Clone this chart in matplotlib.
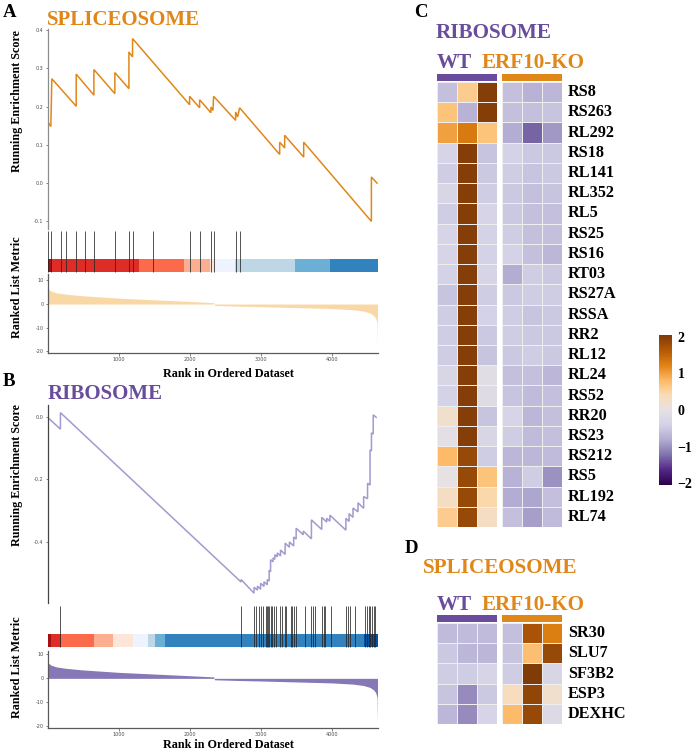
import matplotlib
matplotlib.use("Agg")
import matplotlib.pyplot as plt
import numpy as np
from matplotlib.patches import Rectangle
from matplotlib.colors import Normalize, LinearSegmentedColormap
import matplotlib.colorbar as mcolorbar

plt.rcParams['axes.unicode_minus'] = False

# ---------------- data ----------------
N_GENES = 4645

# ranked list metric (shared ranked list)
metric_rank = [0, 15, 50, 120, 250, 500, 1000, 1500, 2000, 2340, 2350, 2700, 3000, 3500,
               4000, 4300, 4450, 4540, 4590, 4620, 4640, 4645]
metric_value = [7.5, 6.3, 5.5, 4.8, 4.2, 3.5, 2.5, 1.8, 1.1, 0.6, -0.6, -0.9, -1.1, -1.5,
                -1.9, -2.4, -3.0, -3.8, -4.8, -6.0, -8.0, -19.0]

# Panel A: SPLICEOSOME running enrichment score (vertices)
es_a_rank = [0, 5, 47, 61, 404, 404, 653, 653, 948, 948, 1146, 1146, 1197, 1197, 2000, 2000,
             2141, 2141, 2300, 2300, 2329, 2338, 2648, 2648, 2676, 2704, 3268, 3268, 3338, 3338,
             3606, 3606, 4559, 4559, 4638]
es_a_value = [0.0, 0.160, 0.148, 0.273, 0.201, 0.285, 0.230, 0.297, 0.234, 0.289, 0.247, 0.343,
              0.330, 0.378, 0.205, 0.227, 0.197, 0.218, 0.184, 0.199, 0.190, 0.227, 0.164, 0.186,
              0.173, 0.197, 0.075, 0.107, 0.092, 0.125, 0.068, 0.107, -0.100, 0.016, 0.0]
hits_a = [2, 52, 192, 263, 404, 526, 653, 953, 1146, 1202, 1484, 2000, 2141, 2300, 2343, 2648, 2714]
band_a_edges = [0, 66, 1286, 1925, 2291, 2362, 2643, 3488, 3981, 4645]
band_a_colors = ["#A50F15", "#DE2D26", "#FB6A4A", "#FCAE91", "#FEE5D9", "#EFF3FF", "#BDD7E7",
                 "#6BAED6", "#3182BD"]

# Panel B: RIBOSOME running enrichment score
es_b_rank = [0, 182, 182, 2725, 2725, 2907, 2907, 2955, 2955, 3000, 3000, 3047, 3047, 3093, 3093,
             3120, 3120, 3140, 3140, 3175, 3175, 3200, 3200, 3235, 3235, 3280, 3280, 3345, 3345,
             3405, 3405, 3465, 3465, 3500, 3500, 3600, 3600, 3715, 3715, 3860, 3860, 3930, 3930,
             3975, 3975, 4200, 4200, 4245, 4245, 4300, 4300, 4370, 4370, 4450, 4450, 4505, 4505,
             4540, 4540, 4560, 4560, 4585, 4585, 4626]
es_b_value = [0.0, -0.038, 0.015, -0.530, -0.522, -0.566, -0.547, -0.556, -0.543, -0.553, -0.534,
              -0.544, -0.529, -0.539, -0.522, -0.527, -0.492, -0.497, -0.458, -0.465, -0.452,
              -0.457, -0.442, -0.449, -0.436, -0.446, -0.427, -0.441, -0.405, -0.418, -0.401,
              -0.414, -0.385, -0.392, -0.357, -0.378, -0.366, -0.391, -0.330, -0.361, -0.322,
              -0.337, -0.325, -0.334, -0.315, -0.363, -0.325, -0.335, -0.310, -0.322, -0.292,
              -0.304, -0.275, -0.293, -0.255, -0.262, -0.212, -0.218, -0.105, -0.108, -0.050,
              -0.054, 0.008, 0.0]
hits_b = [182, 2729, 2907, 2930, 2977, 3000, 3037, 3070, 3093, 3107, 3117, 3140, 3164, 3187, 3220,
          3266, 3295, 3341, 3360, 3421, 3444, 3467, 3500, 3621, 3715, 3734, 3762, 3865, 3888, 3911,
          3995, 4206, 4229, 4262, 4332, 4463, 4495, 4519, 4542, 4565, 4589, 4610]
band_b_edges = [0, 56, 187, 650, 921, 1201, 1411, 1509, 1659, 4449, 4645]
band_b_colors = ["#A50F15", "#DE2D26", "#FB6A4A", "#FCAE91", "#FEE5D9", "#EFF3FF", "#BDD7E7",
                 "#6BAED6", "#3182BD", "#08519C"]

rank_ticks = [1000, 2000, 3000, 4000]
metric_ticks = [-20, -10, 0, 10]

# Panel C heatmap (z-scores): columns WT1..3, ERF10-KO1..3
ribosome_genes = ["RS8", "RS263", "RL292", "RS18", "RL141", "RL352", "RL5", "RS25", "RS16", "RT03",
                  "RS27A", "RSSA", "RR2", "RL12", "RL24", "RS52", "RR20", "RS23", "RS212", "RS5",
                  "RL192", "RL74"]
ribosome_values = [
    [-0.6, 0.6, 2.0, -0.6, -0.75, -0.7],
    [0.7, -0.75, 2.0, -0.6, -0.6, -0.55],
    [1.0, 1.3, 0.7, -0.8, -1.3, -0.95],
    [-0.35, 2.0, -0.55, -0.4, -0.5, -0.5],
    [-0.45, 2.0, -0.5, -0.45, -0.55, -0.5],
    [-0.3, 2.0, -0.45, -0.5, -0.6, -0.55],
    [-0.45, 2.0, -0.35, -0.5, -0.6, -0.6],
    [-0.35, 2.0, -0.4, -0.45, -0.6, -0.6],
    [-0.35, 2.0, -0.4, -0.4, -0.6, -0.7],
    [-0.4, 2.0, -0.35, -0.8, -0.45, -0.5],
    [-0.55, 2.0, -0.45, -0.5, -0.45, -0.45],
    [-0.45, 2.0, -0.4, -0.45, -0.55, -0.5],
    [-0.45, 2.0, -0.5, -0.45, -0.5, -0.5],
    [-0.45, 2.0, -0.55, -0.5, -0.45, -0.5],
    [-0.3, 2.0, -0.1, -0.6, -0.6, -0.7],
    [-0.4, 2.0, -0.15, -0.55, -0.65, -0.6],
    [0.2, 2.0, -0.55, -0.35, -0.7, -0.6],
    [-0.05, 2.0, -0.3, -0.45, -0.65, -0.6],
    [0.8, 1.85, -0.45, -0.7, -0.7, -0.65],
    [0.0, 1.85, 0.7, -0.75, -0.45, -1.0],
    [0.3, 1.85, 0.45, -0.8, -0.85, -0.6],
    [0.6, 1.85, 0.3, -0.6, -0.9, -0.65],
]
# Panel D heatmap
spliceosome_genes = ["SR30", "SLU7", "SF3B2", "ESP3", "DEXHC"]
spliceosome_values = [
    [-0.65, -0.65, -0.65, -0.6, 1.7, 1.25],
    [-0.5, -0.7, -0.7, -0.55, 0.75, 1.85],
    [-0.45, -0.45, -0.35, -0.45, 2.05, -0.3],
    [-0.55, -1.05, -0.5, 0.35, 1.9, 0.2],
    [-0.7, -1.05, -0.35, 0.8, 1.85, -0.2],
]
group_labels = ["WT", "ERF10-KO"]
cbar_ticks = [-2, -1, 0, 1, 2]

# ---------------- style ----------------
W, H = 696, 751
SERIF = "Liberation Serif"
ORANGE = "#E08719"
PURPLE = "#6A4C9C"
TICKC = "#4D4D4D"

fig = plt.figure(figsize=(W / 100, H / 100), dpi=100)


def px(l, t, r, b):
    return [l / W, 1 - b / H, (r - l) / W, (b - t) / H]


def ftext(x, y, s, **kw):
    kw.setdefault("family", SERIF)
    kw.setdefault("fontweight", "bold")
    fig.text(x / W, 1 - y / H, s, **kw)


def gsea_panel(es_box, rug_box, met_box, es_x, es_y, es_color, es_ylim, es_ticks, es_spine,
               hits, edges, colors, band_rng, line_rng, met_color, met_ylim):
    ax = fig.add_axes(px(*es_box))
    ax.patch.set_alpha(0)
    ax.plot(es_x, es_y, color=es_color, lw=1.1, solid_joinstyle="miter")
    ax.set_xlim(0, N_GENES)
    ax.set_ylim(*es_ylim)
    for s in ["top", "right", "bottom"]:
        ax.spines[s].set_visible(False)
    ax.spines["left"].set_color(es_spine)
    ax.spines["left"].set_linewidth(0.9)
    ax.set_xticks([])
    ax.set_yticks(es_ticks)
    ax.set_yticklabels([f"{t:.1f}" for t in es_ticks])
    ax.tick_params(axis="y", labelsize=3.5, colors=TICKC, length=1.8, width=0.5, pad=1)

    ar = fig.add_axes(px(*rug_box))
    ar.axis("off")
    ar.set_xlim(0, N_GENES)
    ar.set_ylim(0, 1)
    for e0, e1, c in zip(edges[:-1], edges[1:], colors):
        ar.add_patch(Rectangle((e0, band_rng[0]), e1 - e0, band_rng[1] - band_rng[0],
                               facecolor=c, lw=0))
    ar.vlines(hits, line_rng[0], line_rng[1], color="#262626", lw=0.7, alpha=0.8)

    am = fig.add_axes(px(*met_box))
    am.patch.set_alpha(0)
    am.fill_between(metric_rank, metric_value, 0, color=met_color, lw=0)
    am.set_xlim(0, N_GENES)
    am.set_ylim(*met_ylim)
    for s in ["top", "right"]:
        am.spines[s].set_visible(False)
    for s in ["left", "bottom"]:
        am.spines[s].set_color("#5a5a5a")
        am.spines[s].set_linewidth(0.9)
    am.set_yticks(metric_ticks)
    am.set_xticks(rank_ticks)
    am.tick_params(labelsize=3.5, colors=TICKC, length=1.8, width=0.5, pad=1)


# Panel A
gsea_panel((47.5, 29, 377.5, 229), (47.5, 229, 377.5, 273), (47.5, 274, 377.5, 353),
           es_a_rank, es_a_value, ORANGE, (-0.12, 0.403), [-0.1, 0.0, 0.1, 0.2, 0.3, 0.4], "#8c8c8c",
           hits_a, band_a_edges, band_a_colors, (0.02, 0.32), (0.02, 0.95),
           "#F9D8A6", (-20.7, 12.7))
# Panel B
gsea_panel((47.5, 405, 377.5, 603), (47.5, 603, 377.5, 648), (47.5, 651, 377.5, 728),
           es_b_rank, es_b_value, "#A29AD0", (-0.5975, 0.0396), [-0.4, -0.2, 0.0], "#444444",
           hits_b, band_b_edges, band_b_colors, (0.02, 0.31), (0.02, 0.93),
           "#8677B6", (-20.7, 11.4))

# panel texts for A and B
ftext(3, 17, "A", fontsize=13.5, va="baseline")
ftext(47, 25, "SPLICEOSOME", fontsize=15, color=ORANGE, va="baseline")
ftext(17, 101, "Running Enrichment Score", fontsize=8.7, rotation=90, ha="center", va="center")
ftext(17, 287, "Ranked List Metric", fontsize=8.7, rotation=90, ha="center", va="center")
ftext(228, 374, "Rank in Ordered Dataset", fontsize=8.7, ha="center", va="center")

ftext(3, 386, "B", fontsize=13.5, va="baseline")
ftext(48, 399, "RIBOSOME", fontsize=15, color=PURPLE, va="baseline")
ftext(17, 475, "Running Enrichment Score", fontsize=8.7, rotation=90, ha="center", va="center")
ftext(17, 667, "Ranked List Metric", fontsize=8.7, rotation=90, ha="center", va="center")
ftext(228, 745, "Rank in Ordered Dataset", fontsize=8.7, ha="center", va="center")

# ---------------- heatmaps ----------------
cmap = LinearSegmentedColormap.from_list(
    "puor_grey",
    ["#2D004B", "#542788", "#8073AC", "#B2ABD2", "#D3D1E6", "#E6E1E4",
     "#FADCB6", "#FDB863", "#E08214", "#B35806", "#7F3B08"])
norm = Normalize(vmin=-2.05, vmax=2.05)


def heatmap(values, genes, top, bottom, bar_top, bar_bottom):
    arr = np.array(values)
    n = len(genes)
    for (l, r), cols, bc in [((437, 497), slice(0, 3), PURPLE), ((502, 562), slice(3, 6), ORANGE)]:
        ax = fig.add_axes(px(l, top, r, bottom))
        ax.pcolormesh(arr[:, cols], cmap=cmap, norm=norm, edgecolors="#EEEEEE", linewidth=0.6)
        ax.set_xlim(0, 3)
        ax.set_ylim(n, 0)
        ax.axis("off")
        ab = fig.add_axes(px(l, bar_top, r, bar_bottom))
        ab.set_facecolor(bc)
        ab.set_xticks([])
        ab.set_yticks([])
        for s in ab.spines.values():
            s.set_visible(False)
    rh = (bottom - top) / n
    for i, g in enumerate(genes):
        ftext(568, top + (i + 0.5) * rh, g, fontsize=11.7, va="center")


heatmap(ribosome_values, ribosome_genes, 82, 527, 74, 81)
heatmap(spliceosome_values, spliceosome_genes, 623, 724, 615, 622)

ftext(414, 17, "C", fontsize=13.5, va="baseline")
ftext(436, 38, "RIBOSOME", fontsize=15.2, color=PURPLE, va="baseline")
ftext(437, 68, group_labels[0], fontsize=15.2, color=PURPLE, va="baseline")
ftext(482, 68, group_labels[1], fontsize=15.2, color=ORANGE, va="baseline")

ftext(405, 553, "D", fontsize=13.5, va="baseline")
ftext(423, 573, "SPLICEOSOME", fontsize=15.2, color=ORANGE, va="baseline")
ftext(437, 610, group_labels[0], fontsize=15.2, color=PURPLE, va="baseline")
ftext(482, 610, group_labels[1], fontsize=15.2, color=ORANGE, va="baseline")

# colorbar
cax = fig.add_axes(px(659, 335, 672, 485))
cb = mcolorbar.ColorbarBase(cax, cmap=cmap, norm=norm, orientation="vertical")
cb.outline.set_visible(False)
cb.set_ticks(cbar_ticks)
cb.set_ticklabels([("\u2212" + str(-t)) if t < 0 else str(t) for t in cbar_ticks])
cax.tick_params(length=0, pad=4)
for lab in cax.get_yticklabels():
    lab.set_family(SERIF)
    lab.set_fontweight("bold")
    lab.set_fontsize(10)

fig.savefig("out.png", dpi=100)
